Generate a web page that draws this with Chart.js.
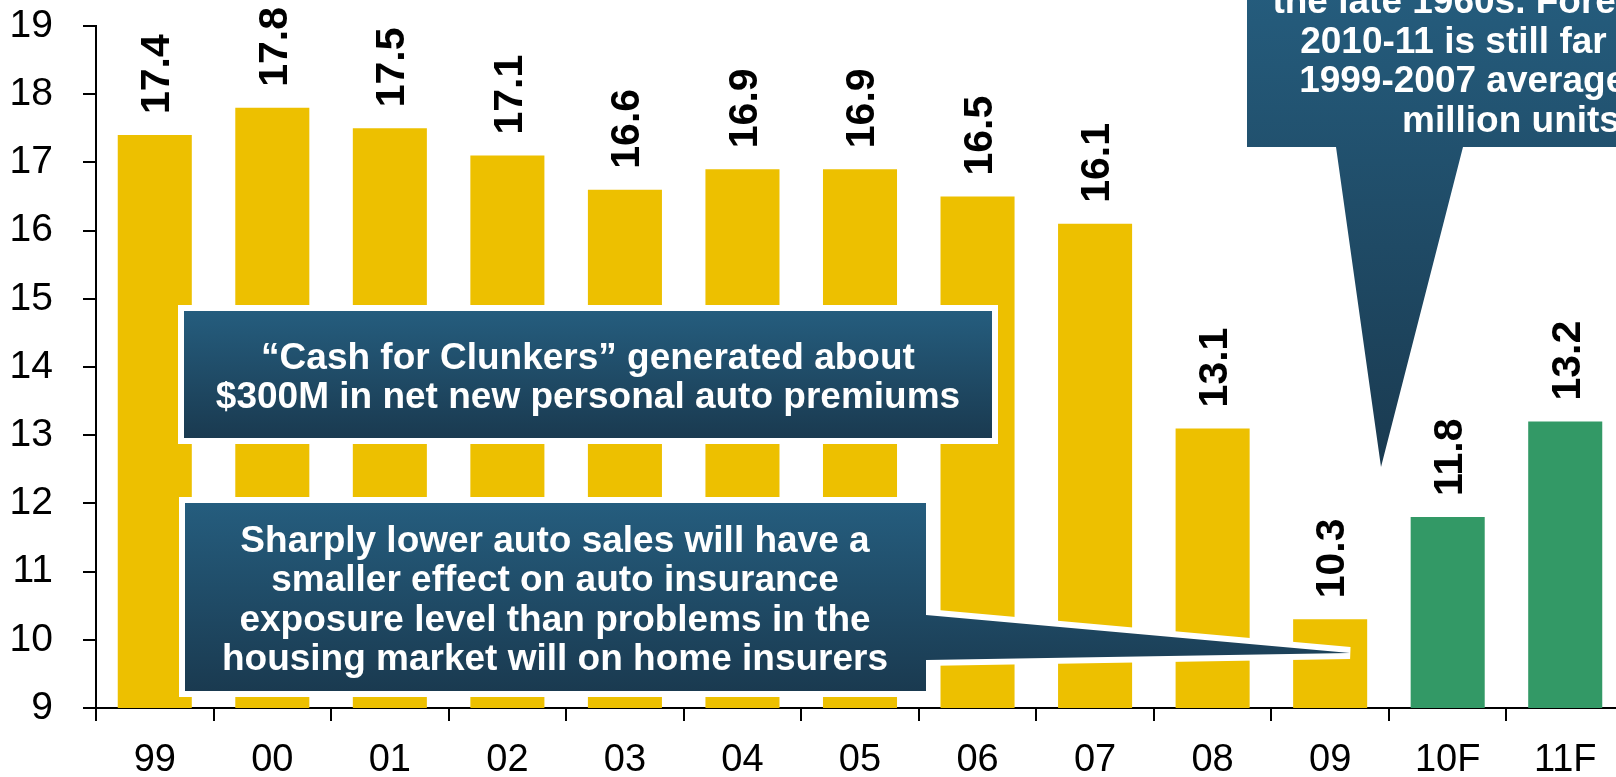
<!DOCTYPE html>
<html>
<head>
<meta charset="utf-8">
<script src="https://cdn.jsdelivr.net/npm/chart.js@4"></script>
<style>
  html, body { margin:0; padding:0; background:#fff; overflow:hidden; }
  canvas { display:block; }
</style>
</head>
<body>
<canvas id="salesChart" width="1624" height="777"></canvas>
<script>
// data
const years = ['99','00','01','02','03','04','05','06','07','08','09','10F','11F'];
const sales = [17.4, 17.8, 17.5, 17.1, 16.6, 16.9, 16.9, 16.5, 16.1, 13.1, 10.3, 11.8, 13.2];
const forecastYears = ['10F','11F'];
const yMin = 9, yMax = 19, yStep = 1;

const clunkerNote  = ['\u201CCash for Clunkers\u201D generated about', '$300M in net new personal auto premiums'];
const housingNote  = ['Sharply lower auto sales will have a', 'smaller effect on auto insurance',
                      'exposure level than problems in the', 'housing market will on home insurers'];
const forecastNote = ['the late 1960s. Forecast for', '2010-11 is still far below',
                      '1999-2007 average of 17', 'million units'];

// styles
const FONT = '"Liberation Sans", Arial, sans-serif';
const GOLD = '#EDC000', GREEN = '#339966';

// value labels, rotated above each bar
const valueLabels = {
  id: 'valueLabels',
  afterDatasetsDraw(chart){
    const ctx = chart.ctx, meta = chart.getDatasetMeta(0);
    ctx.save();
    ctx.font = 'bold 41px ' + FONT;
    ctx.fillStyle = '#000';
    ctx.textAlign = 'left';
    ctx.textBaseline = 'middle';
    meta.data.forEach((bar, i) => {
      ctx.save();
      ctx.translate(bar.x + 3, bar.y - 21);
      ctx.rotate(-Math.PI / 2);
      ctx.fillText(sales[i].toFixed(1), 0, 0);
      ctx.restore();
    });
    ctx.restore();
  }
};

// blue callout boxes
function drawCallout(ctx, box, tail, border, g0, g1){
  const p = new Path2D();
  p.rect(box.x, box.y, box.w, box.h);
  if (tail){
    p.moveTo(tail[0][0], tail[0][1]);
    for (let k = 1; k < tail.length; k++) p.lineTo(tail[k][0], tail[k][1]);
    p.closePath();
  }
  if (border){
    ctx.lineWidth = border * 2;
    ctx.lineJoin = 'miter';
    ctx.strokeStyle = '#fff';
    ctx.stroke(p);
    ctx.fillStyle = '#fff';
    ctx.fill(p);
  }
  const g = ctx.createLinearGradient(0, g0, 0, g1);
  g.addColorStop(0, '#255d7e');
  g.addColorStop(1, '#1a3a50');
  ctx.fillStyle = g;
  ctx.fill(p);
}

function drawLines(ctx, lines, cx, firstBase, lh){
  ctx.save();
  ctx.font = 'bold 37px ' + FONT;
  ctx.fillStyle = '#fff';
  ctx.textAlign = 'center';
  ctx.textBaseline = 'alphabetic';
  lines.forEach((t, i) => ctx.fillText(t, cx, firstBase + i * lh));
  ctx.restore();
}

const callouts = {
  id: 'callouts',
  afterDraw(chart){
    const ctx = chart.ctx;
    ctx.save();
    drawCallout(ctx, {x:184, y:311, w:808, h:127}, null, 6, 311, 438);
    drawLines(ctx, clunkerNote, 588, 369, 39);

    drawCallout(ctx, {x:185, y:503, w:741, h:188}, [[926,615],[1350,653],[926,660]], 6, 503, 691);
    drawLines(ctx, housingNote, 555, 552, 39.3);

    drawCallout(ctx, {x:1247, y:-200, w:600, h:347}, [[1336,147],[1381,467],[1463,147]], 0, -20, 470);
    drawLines(ctx, forecastNote, 1511, 13, 39.7);
    ctx.restore();
  }
};

// chart
const ctx = document.getElementById('salesChart').getContext('2d');
new Chart(ctx, {
  type: 'bar',
  data: {
    labels: years,
    datasets: [{
      data: sales,
      backgroundColor: years.map(y => forecastYears.includes(y) ? GREEN : GOLD),
      barPercentage: 0.63,
      categoryPercentage: 1
    }]
  },
  options: {
    responsive: false,
    animation: false,
    devicePixelRatio: 1,
    layout: { padding: { top: 26, left: 0, right: 0, bottom: 0 } },
    plugins: { legend: { display: false }, tooltip: { enabled: false } },
    scales: {
      x: {
        grid: { drawOnChartArea: false, color: '#000', lineWidth: 2, tickLength: 13, offset: true },
        border: { color: '#000', width: 2 },
        ticks: { color: '#000', font: { family: FONT, size: 38 }, padding: 17, maxRotation: 0 },
        afterFit: s => { s.height = 69; s.paddingLeft = 0; s.paddingRight = 0; }
      },
      y: {
        min: yMin, max: yMax,
        grid: { drawOnChartArea: false, color: '#000', lineWidth: 2, tickLength: 13 },
        border: { color: '#000', width: 2 },
        ticks: { stepSize: yStep, color: '#000', font: { family: FONT, size: 39 }, padding: 30 },
        afterFit: s => { s.width = 96; s.paddingTop = 0; s.paddingBottom = 0; }
      }
    }
  },
  plugins: [valueLabels, callouts]
});
</script>
</body>
</html>
